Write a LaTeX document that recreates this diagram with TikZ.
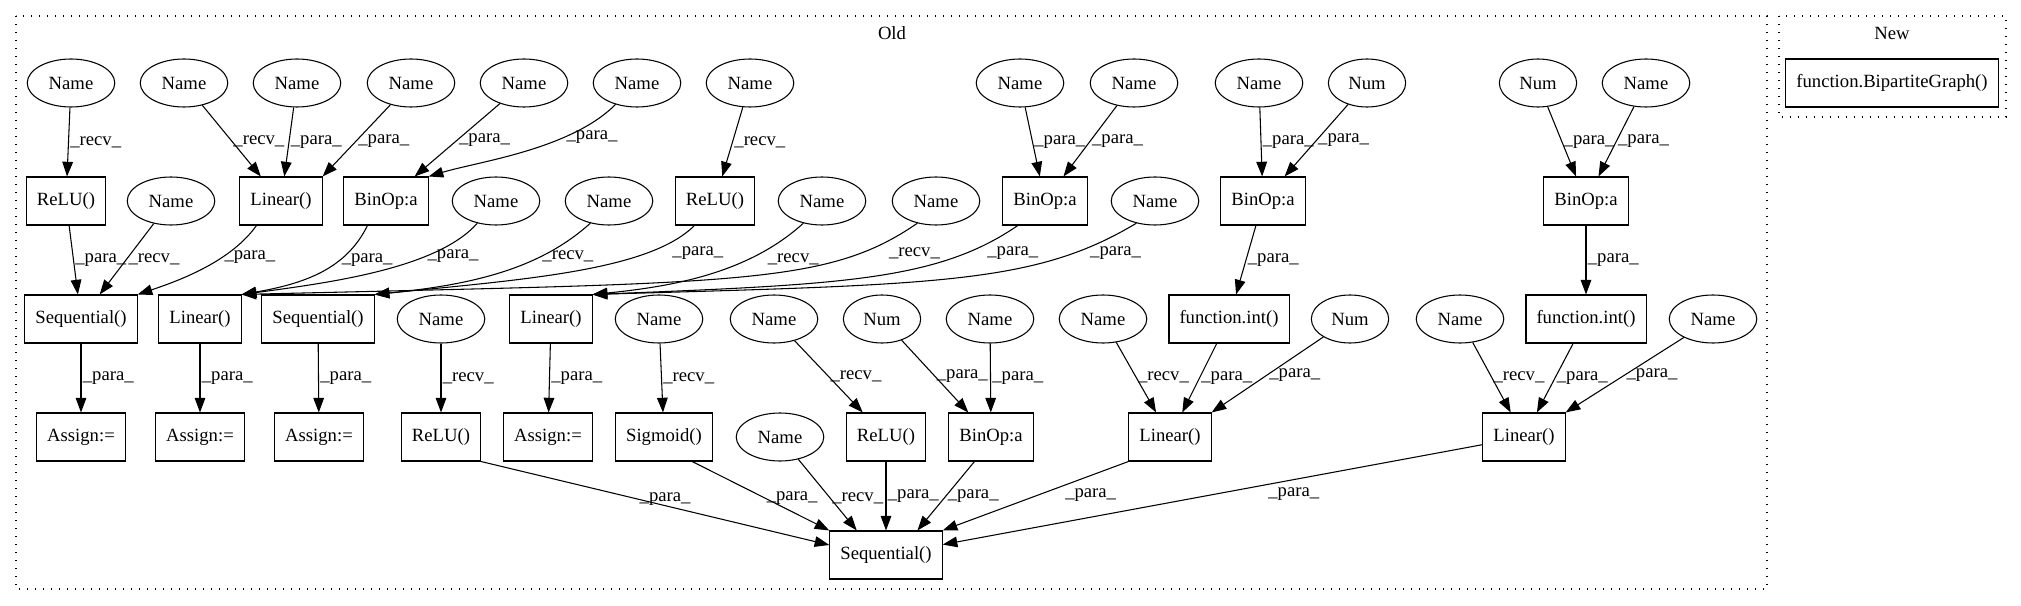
\documentclass[tikz,border=0pt]{standalone}
\usepackage{fontspec}
\setmainfont{Liberation Serif}
\usetikzlibrary{arrows.meta,shapes.geometric}

\begin{document}
\begin{tikzpicture}[x=0.75pt,y=-0.75pt,
  every node/.style={font=\fontsize{14pt}{16pt}\selectfont},
  op/.style={draw,line width=0.8pt,rectangle,minimum height=36pt,minimum width=54pt,inner xsep=7.9pt},
  var/.style={draw,line width=0.8pt,ellipse,minimum height=36pt,inner xsep=6.5pt},
  edge/.style={line width=0.8pt,-{Triangle[length=11pt,width=8pt]}},
  lbl/.style={anchor=west,inner xsep=1pt,inner ysep=2pt},
  cluster/.style={line width=0.8pt,dash pattern=on 0.8pt off 5.2pt}]
\useasboundingbox (0,0) rectangle (2021,606);

\draw[cluster] (16,16) rectangle (1767,589);
\node (old) at (892,33) {Old};
\draw[cluster] (1779,16) rectangle (2006,117);
\node (new) at (1892,33) {New};
\node[op] (bigraph) at (1892,83) {function.BipartiteGraph()};

\node[var] (n1) at (71,83) {Name};
\node[var] (n2) at (184,83) {Name};
\node[var] (n3) at (297,83) {Name};
\node[var] (n4) at (411,83) {Name};
\node[var] (n5) at (524,83) {Name};
\node[var] (n6) at (637,83) {Name};
\node[var] (n7) at (750,83) {Name};
\node[var] (n8) at (1020,83) {Name};
\node[var] (n9) at (1134,83) {Name};
\node[var] (n10) at (1259,83) {Name};
\node[var] (n11) at (1367,83) {Num};
\node[var] (n12) at (1538,83) {Num};
\node[var] (n13) at (1646,83) {Name};

\node[op] (relu1) at (66,201) {ReLU()};
\node[var] (m1) at (171,201) {Name};
\node[op] (lin1) at (281,201) {Linear()};
\node[op] (bin1) at (386,201) {BinOp:a};
\node[var] (m2) at (496,201) {Name};
\node[var] (m3) at (609,201) {Name};
\node[op] (relu2) at (715,201) {ReLU()};
\node[var] (m4) at (822,201) {Name};
\node[var] (m5) at (936,201) {Name};
\node[op] (bin2) at (1045,201) {BinOp:a};
\node[var] (m6) at (1155,201) {Name};
\node[op] (bin3) at (1263,201) {BinOp:a};
\node[op] (bin4) at (1586,201) {BinOp:a};

\node[op] (seq1) at (81,319) {Sequential()};
\node[op] (lin2) at (200,319) {Linear()};
\node[op] (seq2) at (318,319) {Sequential()};
\node[var] (k1) at (441,319) {Name};
\node[op] (lin3) at (551,319) {Linear()};
\node[var] (k2) at (659,319) {Name};
\node[var] (k3) at (774,319) {Name};
\node[var] (k4) at (882,319) {Num};
\node[var] (k5) at (990,319) {Name};
\node[var] (k6) at (1103,319) {Name};
\node[op] (int1) at (1229,319) {function.int()};
\node[var] (k7) at (1350,319) {Num};
\node[var] (k8) at (1460,319) {Name};
\node[op] (int2) at (1586,319) {function.int()};
\node[var] (k9) at (1713,319) {Name};

\node[op] (as1) at (81,437) {Assign:=};
\node[op] (as2) at (200,437) {Assign:=};
\node[op] (as3) at (319,437) {Assign:=};
\node[op] (relu3) at (441,437) {ReLU()};
\node[op] (as4) at (548,437) {Assign:=};
\node[op] (sig) at (664,437) {Sigmoid()};
\node[var] (p1) at (780,437) {Name};
\node[op] (relu4) at (886,437) {ReLU()};
\node[op] (bin5) at (991,437) {BinOp:a};
\node[op] (lin4) at (1170,437) {Linear()};
\node[op] (lin5) at (1524,437) {Linear()};

\node[op] (seq3) at (886,555) {Sequential()};

\draw[edge] (n1) -- node[lbl] {\_recv\_} (relu1);
\draw[edge] (n2) -- node[lbl] {\_recv\_} (lin1);
\draw[edge] (n3) -- node[lbl] {\_para\_} (lin1);
\draw[edge] (n4) -- node[lbl] {\_para\_} (lin1.north east);
\draw[edge] (n5) -- node[lbl] {\_para\_} (bin1);
\draw[edge] (n6.225) .. controls +(-45,45) and +(50,-15) .. (bin1.north east) node[lbl,pos=0.3] {\_para\_};
\draw[edge] (n7) -- node[lbl] {\_recv\_} (relu2);
\draw[edge] (n8) -- node[lbl] {\_para\_} (bin2);
\draw[edge] (n9) -- node[lbl] {\_para\_} (bin2);
\draw[edge] (n10) -- node[lbl] {\_para\_} (bin3);
\draw[edge] (n11) -- node[lbl] {\_para\_} (bin3);
\draw[edge] (n12) -- node[lbl] {\_para\_} (bin4);
\draw[edge] (n13) -- node[lbl] {\_para\_} (bin4);

\draw[edge] (relu1) -- node[lbl] {\_para\_} (seq1);
\draw[edge] (m1) -- node[lbl] {\_recv\_} (seq1);
\draw[edge] (lin1.225) .. controls +(-25,35) and +(45,-15) .. (seq1.north east) node[lbl,pos=0.35] {\_para\_};
\draw[edge] (bin1.233) .. controls +(-20,40) and +(70,-12) .. (lin2.north east) node[lbl,pos=0.35] {\_para\_};
\draw[edge] (m2.230) .. controls +(-40,45) and +(90,-12) .. (lin2.north east) node[lbl,pos=0.3] {\_para\_};
\draw[edge] (m3.230) .. controls +(-50,45) and +(100,-10) .. (seq2.north east) node[lbl,pos=0.3] {\_recv\_};
\draw[edge] (relu2.230) .. controls +(-45,45) and +(150,-15) .. (seq2.north east) node[lbl,pos=0.25,xshift=18pt] {\_para\_};
\draw[edge] (m4.230) .. controls +(-55,50) and +(80,-8) .. (lin3.north east) node[lbl,pos=0.3,xshift=13pt] {\_recv\_};
\draw[edge] (m5.230) .. controls +(-90,62) and +(500,-12) .. (lin2.north east) node[lbl,pos=0.2,xshift=20pt] {\_recv\_};
\draw[edge] (bin2.222) .. controls +(-80,55) and +(250,-10) .. (lin3.north east) node[lbl,pos=0.2,xshift=14pt] {\_para\_};
\draw[edge] (m6.230) .. controls +(-100,60) and +(350,-10) .. (lin3.north east) node[lbl,pos=0.2,xshift=10pt] {\_para\_};
\draw[edge] (bin3) -- node[lbl] {\_para\_} (int1);
\draw[edge] (bin4) -- node[lbl] {\_para\_} (int2);

\draw[edge] (seq1) -- node[lbl] {\_para\_} (as1);
\draw[edge] (lin2) -- node[lbl] {\_para\_} (as2);
\draw[edge] (seq2) -- node[lbl] {\_para\_} (as3);
\draw[edge] (k1) -- node[lbl] {\_recv\_} (relu3);
\draw[edge] (lin3) -- node[lbl] {\_para\_} (as4);
\draw[edge] (k2) -- node[lbl] {\_recv\_} (sig);
\draw[edge] (k3) -- node[lbl] {\_recv\_} (relu4);
\draw[edge] (k4) -- node[lbl] {\_para\_} (bin5);
\draw[edge] (k5) -- node[lbl] {\_para\_} (bin5);
\draw[edge] (k6) -- node[lbl] {\_recv\_} (lin4);
\draw[edge] (int1) -- node[lbl] {\_para\_} (lin4);
\draw[edge] (k7) -- node[lbl] {\_para\_} (lin4.north east);
\draw[edge] (k8) -- node[lbl] {\_recv\_} (lin5);
\draw[edge] (int2) -- node[lbl] {\_para\_} (lin5);
\draw[edge] (k9) -- node[lbl] {\_para\_} (lin5.north east);

\draw[edge] (relu3.south east) -- node[lbl,pos=0.45] {\_para\_} (seq3.170);
\draw[edge] (sig.319) -- node[lbl,pos=0.53] {\_para\_} (seq3.north west);
\draw[edge] (p1) -- node[lbl,pos=0.55] {\_recv\_} (seq3.140);
\draw[edge] (relu4) -- node[lbl] {\_para\_} (seq3);
\draw[edge] (bin5.236) -- node[lbl] {\_para\_} (seq3.38);
\draw[edge] (lin4.south west) -- node[lbl,pos=0.35,anchor=north west] {\_para\_} (seq3.north east);
\draw[edge] (lin5) -- node[lbl,pos=0.4,anchor=north west] {\_para\_} (seq3);
\end{tikzpicture}
\end{document}
